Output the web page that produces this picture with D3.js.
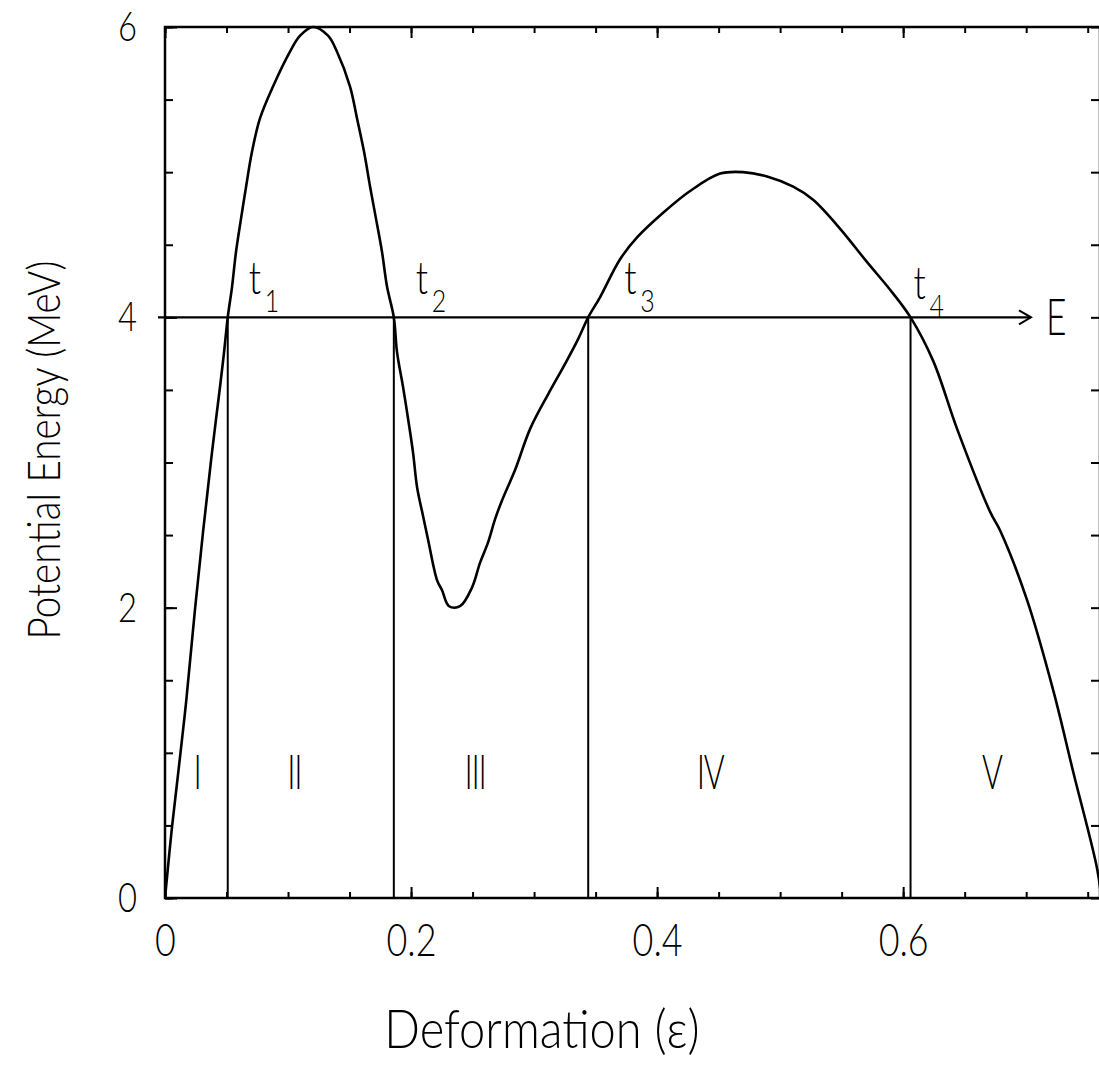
<!DOCTYPE html>
<html>
<head>
<meta charset="utf-8">
<script src="https://cdn.jsdelivr.net/npm/d3@7"></script>
<style>
  html, body { margin: 0; padding: 0; background: #fff; }
  svg { display: block; }
  text { font-family: Lato, "Liberation Sans", sans-serif; font-weight: 300; fill: #000; }
</style>
</head>
<body>
<svg id="chart" width="1099" height="1078"></svg>
<script>
// Potential energy along the deformation path (double-humped barrier)
const deformation = [0, 0.0057, 0.0163, 0.0244, 0.0309, 0.035, 0.0382, 0.0415, 0.0447, 0.048,
  0.051, 0.0545, 0.0577, 0.0618, 0.0659, 0.0707, 0.0772, 0.0878, 0.1016, 0.1098,
  0.1203, 0.1325, 0.1398, 0.1504, 0.1561, 0.1618, 0.1667, 0.1715, 0.1764, 0.1805,
  0.186, 0.1886, 0.1935, 0.1976, 0.2016, 0.2049, 0.2098, 0.2138, 0.2211, 0.2252,
  0.2309, 0.2398, 0.2496, 0.2561, 0.2626, 0.2683, 0.274, 0.2846, 0.2967, 0.3114,
  0.3252, 0.3358, 0.344, 0.3537, 0.3699, 0.3837, 0.4049, 0.4268, 0.4512, 0.4699,
  0.4894, 0.5106, 0.5268, 0.5488, 0.5707, 0.5894, 0.606, 0.6244, 0.6439, 0.6707,
  0.6789, 0.7008, 0.722, 0.7382, 0.7577, 0.761];
const potential = [0, 0.49, 1.28, 1.99, 2.52, 2.83, 3.07, 3.30, 3.52, 3.76,
  4.0, 4.21, 4.45, 4.68, 4.90, 5.14, 5.37, 5.59, 5.83, 5.94,
  6.0, 5.94, 5.83, 5.59, 5.37, 5.14, 4.90, 4.68, 4.45, 4.21,
  4.0, 3.76, 3.52, 3.30, 3.07, 2.83, 2.63, 2.47, 2.19, 2.12,
  2.01, 2.01, 2.14, 2.31, 2.45, 2.61, 2.74, 2.95, 3.23, 3.47,
  3.68, 3.85, 4.0, 4.14, 4.40, 4.55, 4.72, 4.87, 4.99, 5.0,
  4.97, 4.90, 4.81, 4.61, 4.38, 4.19, 4.0, 3.70, 3.23, 2.66,
  2.53, 2.05, 1.43, 0.87, 0.20, 0.0];

// Energy level E and its classical turning points t1..t4
const energyLevel = 4;
const turningPoints = [0.051, 0.186, 0.344, 0.606];
const turningNames = ["1", "2", "3", "4"];

// Regions separated by the turning points
const regionNames = ["I", "II", "III", "IV", "V"];
const regionCentres = [0.026, 0.105, 0.252, 0.443, 0.672];
const regionLabelEnergy = 0.87;

// Axis ticks
const xMajorTicks = [0, 0.2, 0.4, 0.6];
const xTickLabels = ["0", "0.2", "0.4", "0.6"];
const xMinorTicks = d3.range(0, 16).map(i => +(i * 0.05).toFixed(2));
const yMajorTicks = [0, 2, 4, 6];
const yTickLabels = ["0", "2", "4", "6"];
const yMinorTicks = d3.range(0, 13).map(i => i * 0.5);

const xTitle = "Deformation (ε)";
const yTitle = "Potential Energy (MeV)";

// ---- layout ----
const plotL = 165, plotR = 1100, plotT = 27, plotB = 898;
const squeeze = 0.78;   // narrow lettering

const x = d3.scaleLinear().domain([0, 0.76]).range([plotL, plotR]);
const y = d3.scaleLinear().domain([0, 6]).range([plotB, plotT]);

const svg = d3.select("#chart");

function styleAxis(g) {
  g.select(".domain").remove();
  g.selectAll(".tick line").attr("stroke", "#000").attr("stroke-width", 2);
}

// minor ticks on all four sides
svg.append("g").attr("transform", `translate(0,${plotB})`)
  .call(d3.axisBottom(x).tickValues(xMinorTicks).tickSize(-6).tickFormat(""))
  .call(styleAxis);
svg.append("g").attr("transform", `translate(0,${plotT})`)
  .call(d3.axisTop(x).tickValues(xMinorTicks).tickSize(-6).tickFormat(""))
  .call(styleAxis);
svg.append("g").attr("transform", `translate(${plotL},0)`)
  .call(d3.axisLeft(y).tickValues(yMinorTicks).tickSize(-8).tickFormat(""))
  .call(styleAxis);
svg.append("g").attr("transform", `translate(${plotR},0)`)
  .call(d3.axisRight(y).tickValues(yMinorTicks).tickSize(-9).tickFormat(""))
  .call(styleAxis);

// major ticks with labels
const xAxis = svg.append("g").attr("transform", `translate(0,${plotB})`)
  .call(d3.axisBottom(x).tickValues(xMajorTicks).tickSize(-11).tickPadding(25)
    .tickFormat((d, i) => xTickLabels[i]))
  .call(styleAxis);
xAxis.selectAll("text").attr("font-size", 46).attr("transform", `scale(${squeeze},1)`);

svg.append("g").attr("transform", `translate(0,${plotT})`)
  .call(d3.axisTop(x).tickValues(xMajorTicks).tickSize(-11).tickFormat(""))
  .call(styleAxis);

const yAxis = svg.append("g").attr("transform", `translate(${plotL},0)`)
  .call(d3.axisLeft(y).tickValues(yMajorTicks).tickSize(-12).tickPadding(28)
    .tickFormat((d, i) => yTickLabels[i]))
  .call(styleAxis);
yAxis.selectAll("text").attr("font-size", 42)
  .attr("x", -28 / squeeze)
  .attr("transform", `scale(${squeeze},1)`);

// frame
svg.append("rect")
  .attr("x", plotL).attr("y", plotT)
  .attr("width", plotR - plotL).attr("height", plotB - plotT)
  .attr("fill", "none").attr("stroke", "#000").attr("stroke-width", 2.5);

// energy level line with arrow
const arrowTip = 1031;
svg.append("line")
  .attr("x1", plotL - 7).attr("x2", arrowTip)
  .attr("y1", y(energyLevel)).attr("y2", y(energyLevel))
  .attr("stroke", "#000").attr("stroke-width", 2.2);
svg.append("path")
  .attr("d", `M${arrowTip - 12},${y(energyLevel) - 7}L${arrowTip},${y(energyLevel)}L${arrowTip - 12},${y(energyLevel) + 7}`)
  .attr("fill", "none").attr("stroke", "#000").attr("stroke-width", 2);
svg.append("g").attr("transform", `translate(1046,${y(energyLevel) + 18})`)
  .append("text").attr("font-size", 52).attr("transform", `scale(0.68,1)`).text("E");

// vertical lines at the turning points
svg.append("g").selectAll("line").data(turningPoints).join("line")
  .attr("x1", d => x(d)).attr("x2", d => x(d))
  .attr("y1", y(0)).attr("y2", y(energyLevel))
  .attr("stroke", "#000").attr("stroke-width", 2);

// potential curve
const pts = deformation.map((d, i) => [d, potential[i]]);
svg.append("defs").append("clipPath").attr("id", "plot")
  .append("rect").attr("x", plotL).attr("y", plotT - 3)
  .attr("width", plotR - plotL).attr("height", plotB - plotT + 3);
svg.append("path")
  .datum(pts)
  .attr("clip-path", "url(#plot)")
  .attr("fill", "none").attr("stroke", "#000").attr("stroke-width", 2.6)
  .attr("stroke-linejoin", "round")
  .attr("d", d3.line().x(d => x(d[0])).y(d => y(d[1])).curve(d3.curveCatmullRom.alpha(0.5)));

// turning point labels t1..t4
const tLabelDx = [21, 22, 36, 3];
const tLabelDy = [-23, -23, -23, -18];
const tl = svg.append("g").selectAll("g").data(turningPoints).join("g")
  .attr("transform", (d, i) => `translate(${x(d) + tLabelDx[i]},${y(energyLevel) + tLabelDy[i]})`);
tl.append("text").attr("font-size", 46).attr("transform", `scale(${squeeze},1)`).text("t");
tl.append("text").attr("font-size", 32).attr("x", 16 / squeeze).attr("y", 18)
  .attr("transform", `scale(${squeeze},1)`).text((d, i) => turningNames[i]);

// region numerals
svg.append("g").selectAll("g").data(regionNames).join("g")
  .attr("transform", (d, i) => `translate(${x(regionCentres[i])},${y(regionLabelEnergy) + 17})`)
  .append("text").attr("font-size", 47).attr("text-anchor", "middle")
  .attr("letter-spacing", -2)
  .attr("transform", `scale(0.68,1)`).text(d => d);

// axis titles
svg.append("g").attr("transform", `translate(542,1048)`)
  .append("text").attr("font-size", 54).attr("text-anchor", "middle")
  .attr("transform", `scale(0.87,1)`).text(xTitle);
svg.append("g").attr("transform", `translate(60,450) rotate(-90)`)
  .append("text").attr("font-size", 46).attr("text-anchor", "middle")
  .attr("transform", `scale(0.84,1)`).text(yTitle);
</script>
</body>
</html>
